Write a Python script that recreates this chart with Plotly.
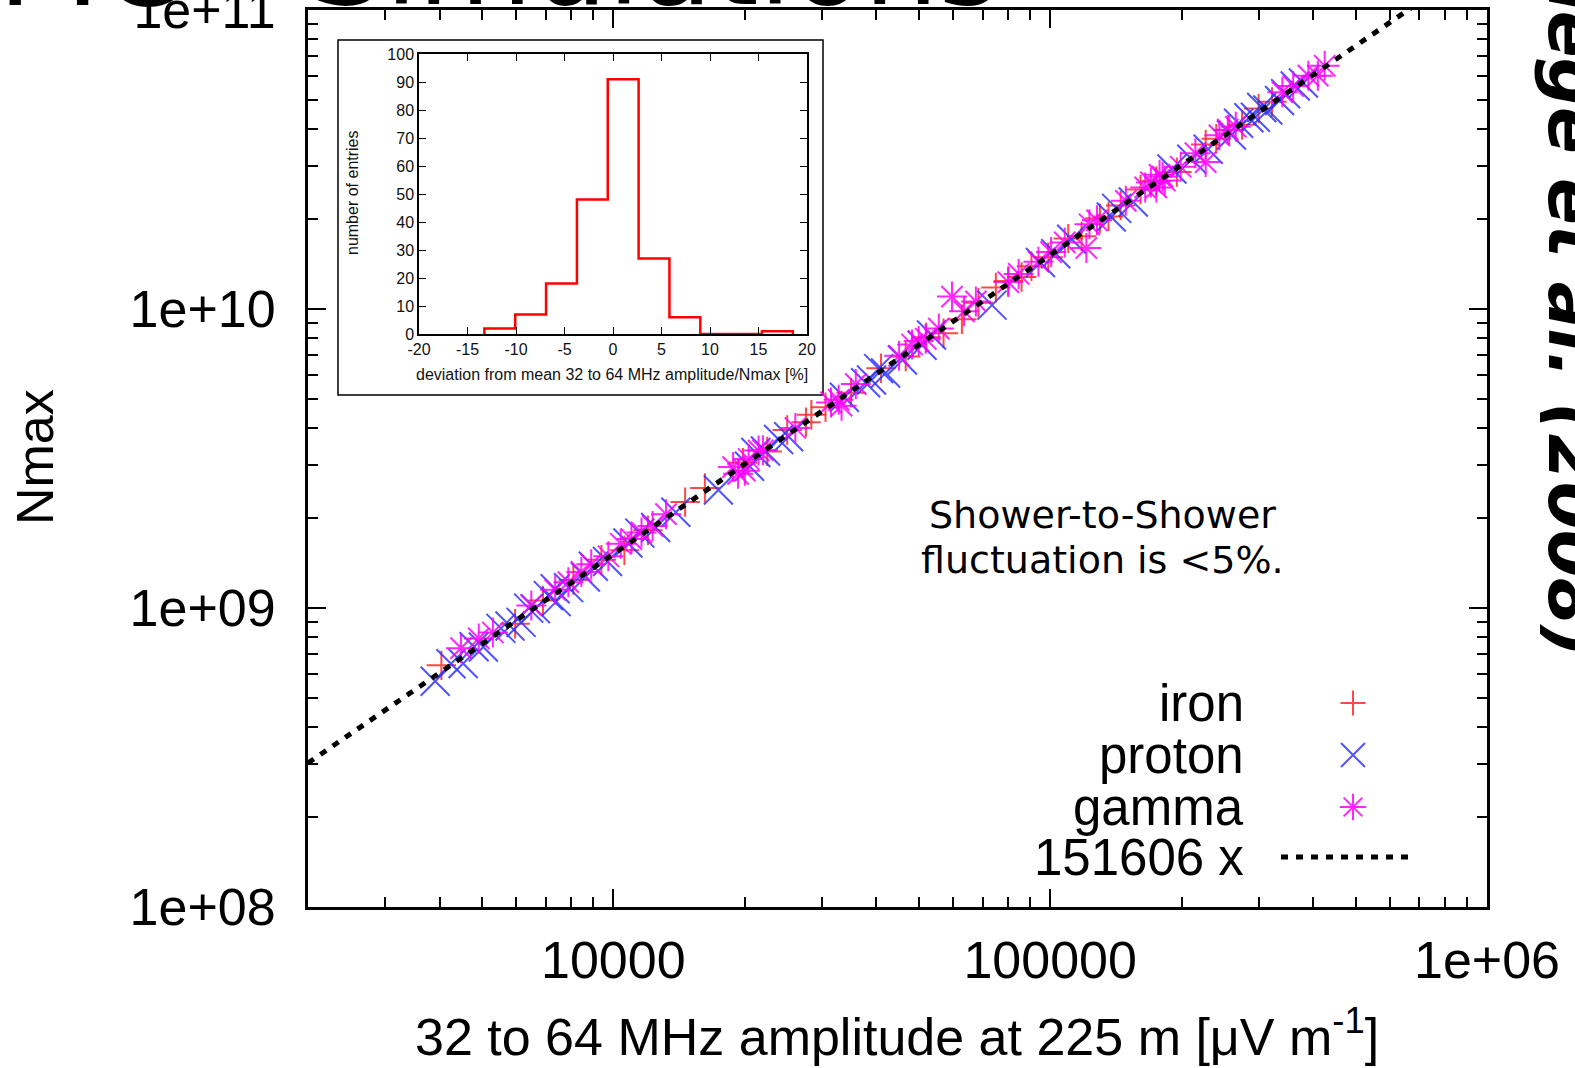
import plotly.graph_objects as go

# ---- page geometry (pixels) ----
W, H = 1575, 1068
L, R, T, B = 308, 1487, 10, 907   # main plot area


def fx(px):
    return (px - L) / (R - L)


def fy(py):
    return (B - py) / (B - T)


# ---- shower simulations: radio amplitude [uV/m] vs. Nmax ----
iron_amp = [4040, 5960, 6900, 8100, 9390, 10600, 12000, 14600, 16200, 19800,
            22500, 25000, 27600, 28400, 30600, 35000, 41000, 46700, 52000, 57000,
            62800, 68500, 75100, 80200, 86000, 90600, 99000, 110000, 118000, 130000,
            136000, 145000, 161000, 175000, 195000, 227000, 240000, 257000, 275000,
            300000, 322000]
iron_nmax = [6.43e8, 8.86e8, 1.06e9, 1.24e9, 1.45e9, 1.56e9, 1.82e9, 2.26e9, 2.52e9, 3.06e9,
             3.34e9, 3.94e9, 4.18e9, 4.43e9, 4.69e9, 5.25e9, 6.34e9, 6.94e9, 8.04e9, 8.30e9,
             9.24e9, 1.05e10, 1.18e10, 1.24e10, 1.28e10, 1.39e10, 1.49e10, 1.72e10, 1.75e10, 2.01e10,
             2.04e10, 2.22e10, 2.51e10, 2.68e10, 2.87e10, 3.55e10, 3.71e10, 3.97e10, 4.13e10,
             4.68e10, 4.93e10]

proton_amp = [3910, 4250, 4530, 4800, 5040, 5530, 5800, 6150, 6400, 6630,
              7100, 7360, 7400, 7900, 8630, 9000, 9700, 10800, 11500, 12500,
              13900, 17400, 20500, 21200, 22300, 23900, 25200, 33800, 37800, 39000,
              40500, 42000, 45900, 50900, 53500, 73600, 95000, 103000, 112000, 138000,
              142000, 155000, 190000, 211000, 230000, 260000, 270000, 285000, 295000, 305000,
              315000, 335000, 346000, 364000, 380000]
proton_nmax = [5.69e8, 6.51e8, 6.52e8, 7.42e8, 7.41e8, 8.55e8, 8.71e8, 8.95e8, 9.99e8, 9.95e8,
               1.10e9, 1.16e9, 1.05e9, 1.17e9, 1.27e9, 1.38e9, 1.43e9, 1.65e9, 1.78e9, 1.86e9,
               2.09e9, 2.48e9, 2.98e9, 3.31e9, 3.35e9, 3.66e9, 3.74e9, 5.07e9, 5.67e9, 5.79e9,
               6.32e9, 6.11e9, 6.75e9, 7.56e9, 8.19e9, 1.03e10, 1.43e10, 1.53e10, 1.71e10, 2.03e10,
               2.17e10, 2.28e10, 2.94e10, 3.17e10, 3.42e10, 3.82e10, 4.18e10, 4.36e10, 4.38e10, 4.72e10,
               4.63e10, 4.98e10, 5.25e10, 5.57e10, 5.70e10]

gamma_amp = [4480, 4920, 5300, 6490, 7360, 7890, 8450, 8900, 9740, 10400,
             11000, 11600, 12300, 13200, 18800, 19300, 20000, 20400, 21500, 22000,
             26100, 31500, 32800, 33300, 35900, 45100, 48300, 50000, 51900, 55600,
             59600, 63500, 67600, 80200, 84700, 94000, 100500, 108000, 121000, 123000,
             128000, 149000, 165000, 170000, 175000, 178000, 181000, 183000, 199000, 215000,
             227000, 244000, 255000, 266000, 340000, 360000, 390000, 410000, 425000]
gamma_nmax = [7.34e8, 7.91e8, 8.28e8, 1.02e9, 1.15e9, 1.22e9, 1.32e9, 1.40e9, 1.49e9, 1.64e9,
              1.70e9, 1.79e9, 1.88e9, 2.06e9, 2.96e9, 2.81e9, 2.88e9, 3.15e9, 3.36e9, 3.37e9,
              4.00e9, 4.87e9, 4.97e9, 4.75e9, 5.61e9, 6.97e9, 7.61e9, 7.81e9, 7.95e9, 8.60e9,
              1.10e10, 9.82e9, 1.06e10, 1.23e10, 1.31e10, 1.44e10, 1.55e10, 1.67e10, 1.60e10, 1.92e10,
              1.98e10, 2.30e10, 2.55e10, 2.65e10, 2.55e10, 2.81e10, 2.77e10, 2.69e10, 2.99e10, 3.32e10,
              3.10e10, 3.81e10, 3.98e10, 4.07e10, 5.31e10, 5.57e10, 6.03e10, 6.03e10, 6.51e10]

# proportional fit Nmax = 151606 * amplitude
fit_slope = 151606
fit_amp = [2000, 1e6]
fit_nmax = [fit_slope * a for a in fit_amp]

# ---- inset: deviation histogram ----
bin_edges = [-13.26, -10.08, -6.90, -3.72, -0.54, 2.64, 5.82, 9.00, 12.18, 15.36, 18.54]
bin_counts = [2, 7, 18, 48, 91, 27, 6, 0, 0, 1]
step_x = [bin_edges[0]] + bin_edges
step_y = [0] + bin_counts + [0]

x_tickvals = [1e4, 1e5, 1e6]
x_ticktext = ["10000", "100000", "1e+06"]
y_tickvals = [1e8, 1e9, 1e10, 1e11]
y_ticktext = ["1e+08", "1e+09", "1e+10", "1e+11"]
x_minor = [m * 10 ** e for e in (3, 4, 5) for m in range(2, 10)]
y_minor = [m * 10 ** e for e in (8, 9, 10) for m in range(2, 10)]
inset_xticks = list(range(-20, 21, 5))
inset_xlabels = [str(v) for v in inset_xticks]
inset_yticks = list(range(0, 101, 10))

IRON = "rgba(255,40,40,0.85)"
PROTON = "rgba(50,50,255,0.85)"
GAMMA = "rgba(255,0,255,0.85)"
TICKFONT = dict(family="Liberation Sans, Arial, sans-serif", size=52, color="black")
KEYFONT = dict(family="Liberation Sans, Arial, sans-serif", size=51, color="black")
INSET_FONT = dict(family="Liberation Sans, Arial, sans-serif", size=16, color="#111")
DOTS = "7px,8px"

fig = go.Figure()

fig.add_trace(go.Scatter(x=iron_amp, y=iron_nmax, mode="markers", name="iron",
                         marker=dict(symbol="cross-thin", size=21,
                                     line=dict(color=IRON, width=2))))
fig.add_trace(go.Scatter(x=proton_amp, y=proton_nmax, mode="markers", name="proton",
                         marker=dict(symbol="x-thin", size=29,
                                     line=dict(color=PROTON, width=2))))
fig.add_trace(go.Scatter(x=gamma_amp, y=gamma_nmax, mode="markers", name="gamma",
                         marker=dict(symbol="asterisk", size=25,
                                     line=dict(color=GAMMA, width=2))))
fig.add_trace(go.Scatter(x=fit_amp, y=fit_nmax, mode="lines", name="151606 x",
                         line=dict(color="black", width=5, dash=DOTS)))

# inset histogram
fig.add_trace(go.Scatter(x=step_x, y=step_y, mode="lines", xaxis="x2", yaxis="y2",
                         line=dict(color="#ff0000", width=2.5, shape="hv")))

# key symbols (drawn on a 0..1 overlay frame)
key_rows = [703, 755, 807, 857]
fig.add_trace(go.Scatter(x=[fx(1353)], y=[fy(key_rows[0])], mode="markers", xaxis="x3", yaxis="y3",
                         marker=dict(symbol="cross-thin", size=18, line=dict(color=IRON, width=2))))
fig.add_trace(go.Scatter(x=[fx(1353)], y=[fy(key_rows[1])], mode="markers", xaxis="x3", yaxis="y3",
                         marker=dict(symbol="x-thin", size=24, line=dict(color=PROTON, width=2))))
fig.add_trace(go.Scatter(x=[fx(1353)], y=[fy(key_rows[2])], mode="markers", xaxis="x3", yaxis="y3",
                         marker=dict(symbol="asterisk", size=22, line=dict(color=GAMMA, width=2))))
fig.add_trace(go.Scatter(x=[fx(1281), fx(1411)], y=[fy(key_rows[3])] * 2, mode="lines",
                         xaxis="x3", yaxis="y3",
                         line=dict(color="black", width=5, dash=DOTS)))

annotations = []
for label, row in zip(["iron", "proton", "gamma", "151606 x"], key_rows):
    annotations.append(dict(text=label, x=fx(1246), y=fy(row), xref="paper", yref="paper",
                            xanchor="right", yanchor="middle", showarrow=False, font=KEYFONT))

# axis titles
annotations.append(dict(text="32 to 64 MHz amplitude at 225 m [μV m<sup>-1</sup>]",
                        x=fx(897), y=fy(1033), xref="paper", yref="paper",
                        xanchor="center", yanchor="middle", showarrow=False, font=TICKFONT))
annotations.append(dict(text="Nmax", x=fx(35), y=fy(457), xref="paper", yref="paper",
                        textangle=-90, xanchor="center", yanchor="middle", showarrow=False,
                        font=TICKFONT))

# inset titles
annotations.append(dict(text="deviation from mean 32 to 64 MHz amplitude/Nmax [%]",
                        x=fx(612), y=fy(374), xref="paper", yref="paper",
                        xanchor="center", yanchor="middle", showarrow=False, font=INSET_FONT))
annotations.append(dict(text="number of entries", x=fx(353), y=fy(193), xref="paper", yref="paper",
                        textangle=-90, xanchor="center", yanchor="middle", showarrow=False,
                        font=INSET_FONT))

# note
NOTE_FONT = dict(family="DejaVu Sans, Verdana, sans-serif", size=38, color="black")
annotations.append(dict(text="Shower-to-Shower", x=fx(1102), y=fy(515), xref="paper", yref="paper",
                        xanchor="center", yanchor="middle", showarrow=False, font=NOTE_FONT))
annotations.append(dict(text="fluctuation is &lt;5%.", x=fx(1102), y=fy(560), xref="paper",
                        yref="paper", xanchor="center", yanchor="middle", showarrow=False,
                        font=NOTE_FONT))

# slide heading (runs off the top edge)
HEAD_FONT = dict(family="DejaVu Sans, Verdana, sans-serif", size=118, color="black")
annotations.append(dict(text="MC", x=fx(-4), y=fy(-36), xref="paper", yref="paper",
                        xanchor="left", yanchor="middle", showarrow=False, font=HEAD_FONT))
annotations.append(dict(text="Simulations", x=fx(308), y=fy(-37), xref="paper", yref="paper",
                        xanchor="left", yanchor="middle", showarrow=False, font=HEAD_FONT))

# citation along the right edge
annotations.append(dict(text="<b><i>Huege et al. (2008)</i></b>", x=fx(1573), y=fy(280),
                        xref="paper", yref="paper", textangle=90,
                        xanchor="center", yanchor="middle", showarrow=False,
                        font=dict(family="DejaVu Sans, Verdana, sans-serif", size=69, color="black")))

shapes = [dict(type="rect", xref="paper", yref="paper",
               x0=fx(338), x1=fx(823), y0=fy(395), y1=fy(40),
               line=dict(color="black", width=1.5), fillcolor="white", layer="below")]

fig.update_layout(
    width=W, height=H,
    margin=dict(l=L, r=W - R, t=T, b=H - B, autoexpand=False),
    paper_bgcolor="white", plot_bgcolor="white",
    showlegend=False,
    annotations=annotations,
    shapes=shapes,
    xaxis=dict(type="log", range=[3.30103, 6], showgrid=False, zeroline=False, automargin=False,
               showline=True, linewidth=3, linecolor="black", mirror="ticks",
               ticks="inside", ticklen=18, tickwidth=2, tickcolor="black",
               tickmode="array", tickvals=x_tickvals, ticktext=x_ticktext,
               tickfont=TICKFONT, ticklabelstandoff=6, ticklabeloverflow="allow",
               minor=dict(ticks="inside", ticklen=10, tickwidth=2, tickcolor="black",
                          tickmode="array", tickvals=x_minor, showgrid=False)),
    yaxis=dict(type="log", range=[8, 11], showgrid=False, zeroline=False, automargin=False,
               showline=True, linewidth=3, linecolor="black", mirror="ticks",
               ticks="inside", ticklen=18, tickwidth=2, tickcolor="black",
               tickmode="array", tickvals=y_tickvals, ticktext=y_ticktext,
               tickfont=TICKFONT, ticklabelstandoff=19, ticklabeloverflow="allow",
               minor=dict(ticks="inside", ticklen=10, tickwidth=2, tickcolor="black",
                          tickmode="array", tickvals=y_minor, showgrid=False)),
    xaxis2=dict(domain=[fx(419), fx(807)], anchor="y2", range=[-20, 20], automargin=False,
                showgrid=False, zeroline=False, showline=True, linewidth=1.5, linecolor="black",
                mirror="ticks", ticks="inside", ticklen=7, tickwidth=1.2, tickcolor="black",
                tickmode="array", tickvals=inset_xticks, ticktext=inset_xlabels,
                tickfont=INSET_FONT),
    yaxis2=dict(domain=[fy(334), fy(54)], anchor="x2", range=[0, 100], automargin=False,
                showgrid=False, zeroline=False, showline=True, linewidth=1.5, linecolor="black",
                mirror="ticks", ticks="inside", ticklen=7, tickwidth=1.2, tickcolor="black",
                tickmode="array", tickvals=inset_yticks,
                tickfont=INSET_FONT),
    xaxis3=dict(range=[0, 1], overlaying="x", anchor="y3", visible=False),
    yaxis3=dict(range=[0, 1], overlaying="y", anchor="x3", visible=False),
)

fig.write_html("out.html")
